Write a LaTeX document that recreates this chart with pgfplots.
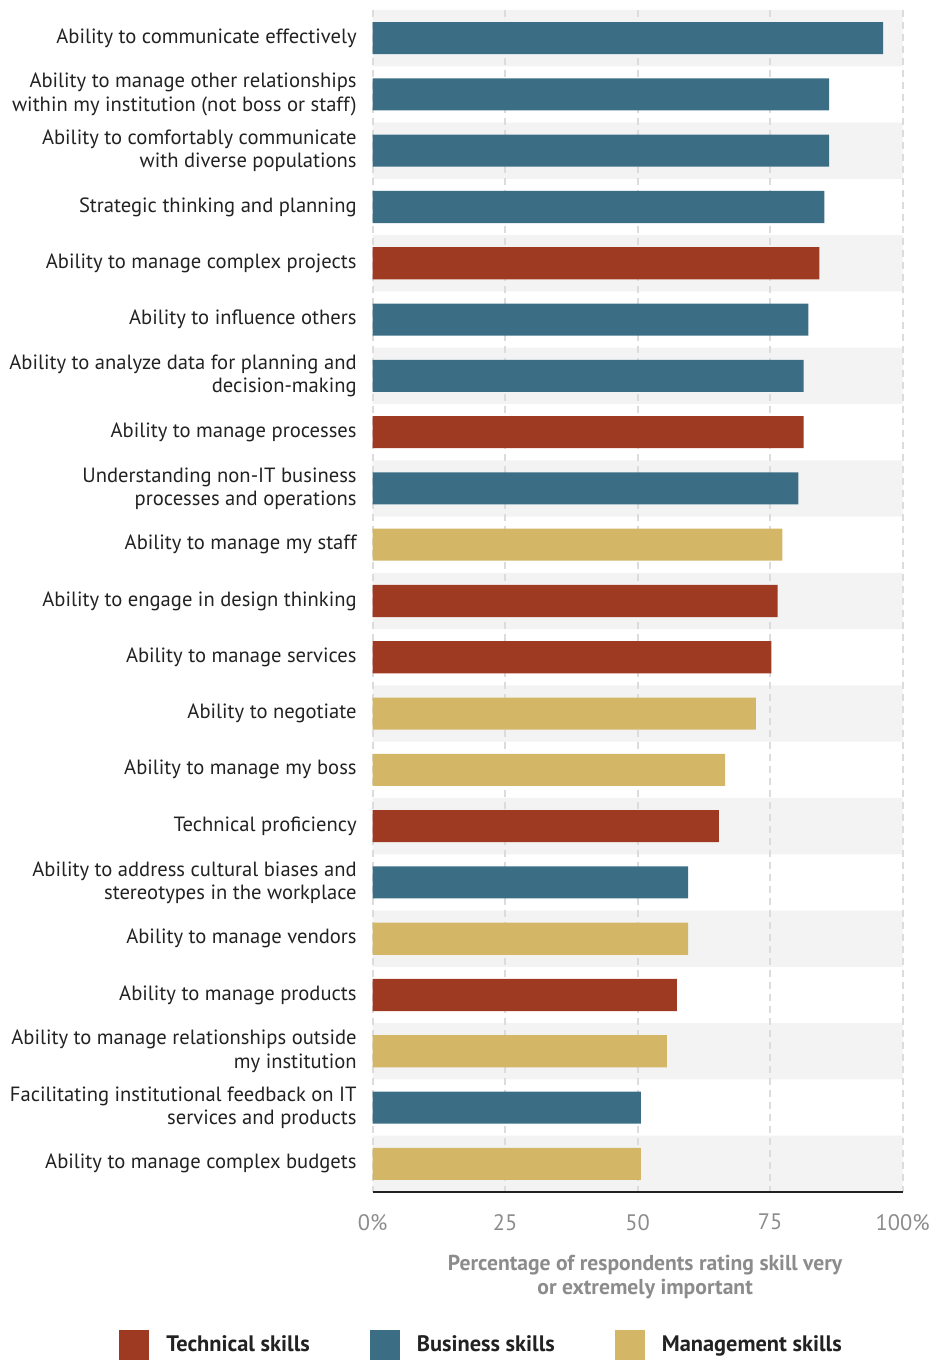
\documentclass[border=0pt]{standalone}
\usepackage{fontspec}
\setmainfont{PT Sans}
\usepackage{pgfplots}
\pgfplotsset{compat=1.18}
\definecolor{tech}{HTML}{9E3A21}
\definecolor{bus}{HTML}{3B6E85}
\definecolor{mgmt}{HTML}{D3B767}
\definecolor{band}{HTML}{F3F3F3}
\definecolor{gridc}{HTML}{DCDCDC}
\definecolor{tickc}{HTML}{8C8C8C}
\definecolor{labc}{HTML}{222222}
\begin{document}
\begin{tikzpicture}
\begin{axis}[
  name=ax,
  set layers,
  at={(0,0)}, anchor=south west,
  scale only axis, width=265pt, height=591pt,
  xmin=0, xmax=100, ymin=-0.5, ymax=20.5,
  y dir=reverse,
  enlargelimits=false,
  axis x line*=bottom,
  axis y line*=left,
  x axis line style={draw=labc, line width=0.8pt},
  y axis line style={draw=none},
  xmajorgrids,
  grid style={gridc, line width=0.9pt, dash pattern=on 3.5pt off 2.5pt},
  major tick length=0pt,
  xtick={0,25,50,75,100},
  xticklabels={0\%,25,50,75,100\%},
  xticklabel style={font=\fontsize{11.2}{13}\selectfont, text=tickc, yshift=-7.5pt},
  ytick={0,...,20},
  yticklabels={
    {Ability to communicate effectively},
    {Ability to manage other relationships\\within my institution (not boss or staff)},
    {Ability to comfortably communicate\\with diverse populations},
    {Strategic thinking and planning},
    {Ability to manage complex projects},
    {Ability to influence others},
    {Ability to analyze data for planning and\\decision-making},
    {Ability to manage processes},
    {Understanding non-IT business\\processes and operations},
    {Ability to manage my staff},
    {Ability to engage in design thinking},
    {Ability to manage services},
    {Ability to negotiate},
    {Ability to manage my boss},
    {Technical proficiency},
    {Ability to address cultural biases and\\stereotypes in the workplace},
    {Ability to manage vendors},
    {Ability to manage products},
    {Ability to manage relationships outside\\my institution},
    {Facilitating institutional feedback on IT\\services and products},
    {Ability to manage complex budgets}},
  yticklabel style={align=right, font=\fontsize{10.3}{11.6}\selectfont, text=labc, xshift=-4.5pt},
  xlabel={Percentage of respondents rating skill very\\or extremely important},
  xlabel style={align=center, font=\bfseries\fontsize{10.8}{11.8}\selectfont, text=tickc,
    at={(axis description cs:0.514,0)}, anchor=north, yshift=-28pt},
  legend columns=3,
  legend cell align=left,
  legend style={draw=none, fill=none, at={(-0.4787,-0.1168)}, anchor=north west,
    font=\bfseries\fontsize{11.2}{13}\selectfont, text=labc,
    /tikz/every even column/.append style={column sep=28pt},
    /tikz/every odd column/.append style={column sep=6.5pt},
    inner sep=0pt},
]
% background bands
\addplot[xbar, bar width=1, bar shift=0pt, fill=band, draw=none, forget plot, on layer=axis background]
  coordinates {(100,0) (100,2) (100,4) (100,6) (100,8) (100,10) (100,12) (100,14) (100,16) (100,18) (100,20)};
% Technical skills
\addplot[xbar, bar width=0.57, bar shift=0pt, fill=tech, draw=none,
  legend image code/.code={\fill[tech] (0pt,-7.5pt) rectangle (15pt,7.5pt);}]
  coordinates {(84.3,4) (81.3,7) (76.4,10) (75.2,11) (65.3,14) (57.4,17)};
\addlegendentry{Technical skills}
% Business skills
\addplot[xbar, bar width=0.57, bar shift=0pt, fill=bus, draw=none,
  legend image code/.code={\fill[bus] (0pt,-7.5pt) rectangle (15pt,7.5pt);}]
  coordinates {(96.3,0) (86.1,1) (86.1,2) (85.2,3) (82.2,5) (81.3,6) (80.3,8) (59.5,15) (50.6,19)};
\addlegendentry{Business skills}
% Management skills
\addplot[xbar, bar width=0.57, bar shift=0pt, fill=mgmt, draw=none,
  legend image code/.code={\fill[mgmt] (0pt,-7.5pt) rectangle (15pt,7.5pt);}]
  coordinates {(77.3,9) (72.3,12) (66.5,13) (59.5,16) (55.5,18) (50.6,20)};
\addlegendentry{Management skills}
\end{axis}
\pgfresetboundingbox
\path (ax.south west) ++(-186.35pt,-84.5pt) rectangle ++(466pt,680.5pt);
\end{tikzpicture}
\end{document}
